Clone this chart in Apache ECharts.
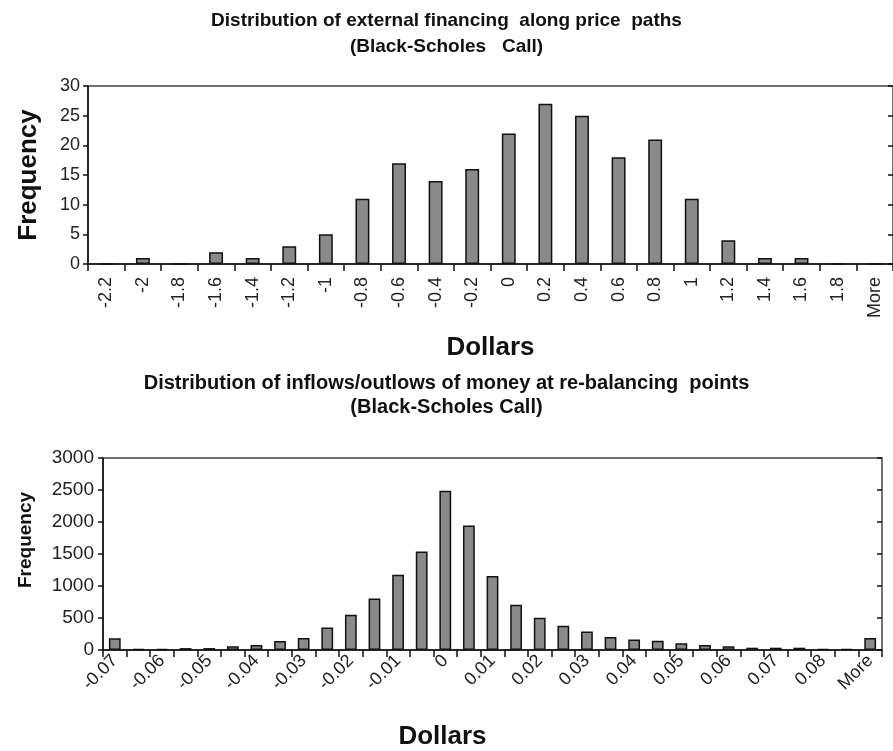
<!DOCTYPE html>
<html>
<head>
<meta charset="utf-8">
<script src="https://cdn.jsdelivr.net/npm/echarts@6/dist/echarts.min.js"></script>
<style>html,body{margin:0;padding:0;background:#fff}#c{width:893px;height:751px}</style>
</head>
<body>
<div id="c"></div>
<script>
const topTitle = 'Distribution of external financing  along price  paths\n(Black-Scholes   Call)';
const bottomTitle = 'Distribution of inflows/outlows of money at re-balancing  points\n(Black-Scholes Call)';
const topCategories = ['-2.2','-2','-1.8','-1.6','-1.4','-1.2','-1','-0.8','-0.6','-0.4','-0.2','0','0.2','0.4','0.6','0.8','1','1.2','1.4','1.6','1.8','More'];
const topValues = [0,1,0,2,1,3,5,11,17,14,16,22,27,25,18,21,11,4,1,1,0,0];
const bottomCategories = ['-0.07','-0.065','-0.06','-0.055','-0.05','-0.045','-0.04','-0.035','-0.03','-0.025','-0.02','-0.015','-0.01','-0.005','0','0.005','0.01','0.015','0.02','0.025','0.03','0.035','0.04','0.045','0.05','0.055','0.06','0.065','0.07','0.075','0.08','0.085','More'];
const bottomValues = [182,15,15,30,30,57,78,140,187,353,550,806,1175,1540,2490,1946,1157,706,503,377,291,202,166,145,104,78,57,36,36,36,15,15,187];

const FONT = "'Liberation Sans', Arial, sans-serif";
const axisLine = {show:true, lineStyle:{color:'#111', width:1.5}};
const barStyle = {color:'#8a8a8a', borderColor:'#111', borderWidth:1.5};
const plain = v => String(v);

const chart = echarts.init(document.getElementById('c'), null, {renderer:'canvas'});
chart.setOption({
  animation:false,
  backgroundColor:'#fff',
  title:[
    {text:topTitle, left:'center', top:3,
     textStyle:{fontFamily:FONT, fontWeight:'bold', fontSize:19, lineHeight:26, color:'#111'}},
    {text:bottomTitle, left:'center', top:366,
     textStyle:{fontFamily:FONT, fontWeight:'bold', fontSize:20, lineHeight:24, color:'#111'}}
  ],
  grid:[
    {left:88, right:-9, top:86, height:178, show:true, borderColor:'#444', borderWidth:1.5},
    {left:103, right:11, top:458, height:193, show:true, borderColor:'#444', borderWidth:1.5}
  ],
  xAxis:[
    {type:'category', gridIndex:0, data:topCategories, axisLine:axisLine,
     axisTick:{show:true, length:7, lineStyle:{color:'#111', width:1.5}},
     axisLabel:{rotate:90, interval:0, margin:13, fontFamily:FONT, fontSize:18, color:'#222'},
     name:'Dollars', nameLocation:'middle', nameGap:71,
     nameTextStyle:{fontFamily:FONT, fontWeight:'bold', fontSize:26, color:'#111'}},
    {type:'category', gridIndex:0, data:topCategories, axisLine:{show:false},
     axisTick:{show:true, inside:true, length:6, lineStyle:{color:'#111', width:1.5}},
     axisLabel:{show:false}},
    {type:'category', gridIndex:1, data:bottomCategories, axisLine:axisLine,
     axisTick:{show:true, interval:0, length:7, lineStyle:{color:'#111', width:1.5}},
     axisLabel:{rotate:45, interval:1, margin:8, fontFamily:FONT, fontSize:18, color:'#222'},
     name:'Dollars', nameLocation:'middle', nameGap:74,
     nameTextStyle:{fontFamily:FONT, fontWeight:'bold', fontSize:26, color:'#111', padding:[0,100,0,0]}},
    {type:'category', gridIndex:1, data:bottomCategories, axisLine:{show:false},
     axisTick:{show:true, inside:true, interval:0, length:6, lineStyle:{color:'#111', width:1.5}},
     axisLabel:{show:false}}
  ],
  yAxis:[
    {type:'value', gridIndex:0, min:0, max:30, interval:5, axisLine:axisLine,
     axisTick:{show:true, length:5, lineStyle:{color:'#111', width:1.5}},
     splitLine:{show:false},
     axisLabel:{margin:8, fontFamily:FONT, fontSize:18, color:'#222', formatter:plain},
     name:'Frequency', nameLocation:'middle', nameGap:46,
     nameTextStyle:{fontFamily:FONT, fontWeight:'bold', fontSize:26, color:'#111'}},
    {type:'value', gridIndex:0, min:0, max:30, interval:5, axisLine:{show:false},
     axisTick:{show:true, inside:true, length:5, lineStyle:{color:'#111', width:1.5}},
     splitLine:{show:false}, axisLabel:{show:false}},
    {type:'value', gridIndex:1, min:0, max:3000, interval:500, axisLine:axisLine,
     axisTick:{show:true, length:5, lineStyle:{color:'#111', width:1.5}},
     splitLine:{show:false},
     axisLabel:{margin:9, fontFamily:FONT, fontSize:19, color:'#222', formatter:plain},
     name:'Frequency', nameLocation:'middle', nameGap:68,
     nameTextStyle:{fontFamily:FONT, fontWeight:'bold', fontSize:19, color:'#111', padding:[0,0,0,28]}},
    {type:'value', gridIndex:1, min:0, max:3000, interval:500, axisLine:{show:false},
     axisTick:{show:true, inside:true, length:5, lineStyle:{color:'#111', width:1.5}},
     splitLine:{show:false}, axisLabel:{show:false}}
  ],
  series:[
    {type:'bar', xAxisIndex:0, yAxisIndex:0, data:topValues, barWidth:'38%', itemStyle:barStyle},
    {type:'bar', xAxisIndex:2, yAxisIndex:2, data:bottomValues, barWidth:'50%', itemStyle:barStyle}
  ]
});
</script>
</body>
</html>
